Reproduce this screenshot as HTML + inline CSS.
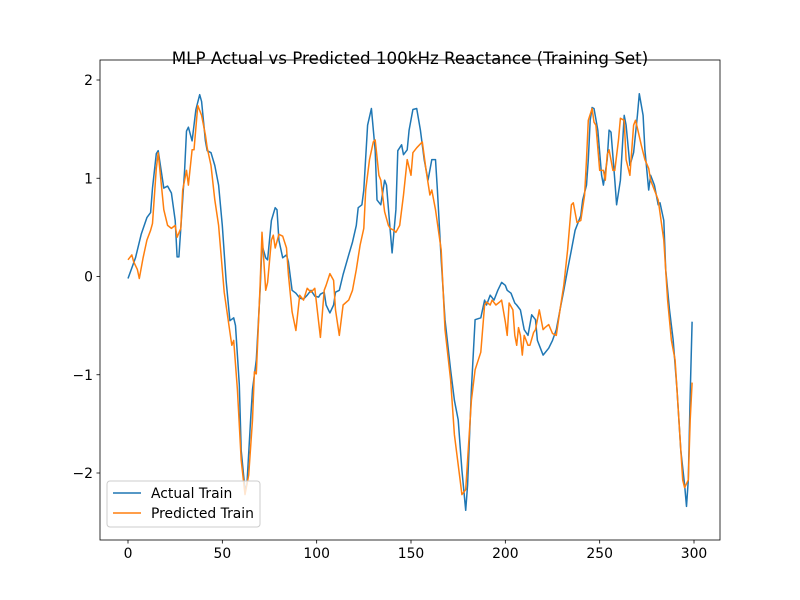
<!DOCTYPE html>
<html><head><meta charset="utf-8"><style>
body{margin:0;background:#fff}
svg{display:block;font-family:"DejaVu Sans","Liberation Sans",sans-serif}
</style></head><body>
<svg id="chart" width="800" height="600">
<rect x="0" y="0" width="800" height="600" fill="#fff"/>
<text x="410" y="64" font-size="16.7" text-anchor="middle">MLP Actual vs Predicted 100kHz Reactance (Training Set)</text>
<g id="axes"></g>
<g id="series"></g>
<rect x="100" y="60" width="620" height="480" fill="none" stroke="#000" stroke-width="0.8"/>
<g>
<rect x="107" y="481" width="153" height="46" rx="3" fill="#fff" fill-opacity="0.8" stroke="#ccc"/>
<line x1="113" y1="493" x2="141" y2="493" stroke="#1f77b4" stroke-width="1.5"/>
<text x="151" y="498" font-size="13.9">Actual Train</text>
<line x1="113" y1="513" x2="141" y2="513" stroke="#ff7f0e" stroke-width="1.5"/>
<text x="151" y="518" font-size="13.9">Predicted Train</text>
</g>
</svg>
<script>
const actualX=[0,4,7,10,12,13,15,16,19,21,23,25,26,27,30,31,32,34,36,38,39,41,42,44,46,48,50,52,54,56,57,59,60,62,63,65,66,68,70,71,73,74,76,78,79,80,82,84,85,87,89,91,93,95,97,99,101,102,104,105,107,109,110,112,114,117,119,121,122,124,125,127,129,131,132,134,136,137,139,140,142,143,145,146,148,149,151,153,155,157,159,161,163,164,166,168,171,173,175,177,179,180,182,184,187,189,190,192,194,196,198,200,201,203,205,206,208,210,212,214,216,217,219,220,223,225,227,229,231,233,235,237,240,241,243,244,245,246,247,249,251,252,254,255,256,258,259,261,263,264,266,268,270,271,273,274,276,277,279,281,282,284,285,287,289,291,293,295,296,297,298,299];
const actualY=[-0.02,0.19,0.43,0.6,0.65,0.9,1.25,1.28,0.9,0.92,0.85,0.57,0.2,0.2,1.08,1.48,1.52,1.38,1.7,1.85,1.78,1.38,1.28,1.26,1.13,0.93,0.52,-0.04,-0.45,-0.42,-0.5,-1.1,-1.77,-2.17,-2.12,-1.46,-1.15,-0.85,-0.14,0.32,0.19,0.17,0.57,0.7,0.68,0.37,0.19,0.22,0.15,-0.14,-0.17,-0.22,-0.23,-0.19,-0.14,-0.2,-0.21,-0.18,-0.16,-0.29,-0.37,-0.29,-0.16,-0.14,0.02,0.22,0.35,0.52,0.7,0.73,0.88,1.54,1.71,1.28,0.78,0.73,0.98,0.93,0.47,0.24,0.68,1.28,1.34,1.24,1.29,1.49,1.7,1.71,1.49,1.19,0.98,1.19,1.19,0.88,0.17,-0.44,-0.95,-1.26,-1.46,-1.97,-2.38,-2.12,-1.15,-0.44,-0.42,-0.24,-0.29,-0.19,-0.24,-0.14,-0.06,-0.09,-0.14,-0.17,-0.27,-0.29,-0.34,-0.54,-0.6,-0.39,-0.44,-0.65,-0.75,-0.8,-0.73,-0.65,-0.54,-0.34,-0.14,0.07,0.27,0.47,0.62,0.78,0.93,1.19,1.59,1.72,1.71,1.49,1.03,0.93,1.19,1.49,1.47,0.98,0.73,0.98,1.64,1.54,1.13,1.26,1.64,1.86,1.64,1.29,0.88,1.03,0.93,0.73,0.75,0.57,0.07,-0.34,-0.65,-1.15,-1.77,-2.12,-2.34,-2.07,-1.2,-0.46];
const predX=[0,2,3,5,6,8,10,12,13,15,16,19,21,23,25,26,28,29,31,32,34,35,37,39,41,42,44,46,48,50,51,55,56,58,60,62,64,66,67,68,70,71,73,74,76,77,78,80,82,84,85,87,89,91,93,95,97,99,101,102,104,105,107,109,110,112,114,117,119,121,123,125,126,128,130,131,133,134,136,138,139,141,142,144,146,148,150,151,153,156,158,160,161,163,166,168,171,173,176,177,179,182,184,187,189,190,192,193,195,197,198,200,201,202,204,205,206,207,208,209,210,212,213,215,216,218,220,221,223,225,227,229,231,233,235,236,238,240,242,243,244,246,247,248,250,252,253,254,255,257,258,260,261,263,264,266,268,269,270,272,274,276,277,279,281,284,286,288,290,292,294,295,297,298,299];
const predY=[0.17,0.22,0.15,0.07,-0.02,0.19,0.37,0.47,0.54,1.1,1.26,0.68,0.52,0.49,0.52,0.4,0.49,0.88,1.08,0.93,1.29,1.29,1.74,1.64,1.44,1.31,1.13,0.78,0.52,0.07,-0.16,-0.7,-0.65,-1.15,-1.87,-2.22,-2.02,-1.46,-0.97,-0.99,-0.09,0.45,-0.14,-0.06,0.37,0.42,0.29,0.43,0.41,0.29,0.02,-0.36,-0.55,-0.19,-0.24,-0.12,-0.16,-0.12,-0.46,-0.62,-0.14,-0.09,0.03,-0.04,-0.34,-0.6,-0.29,-0.24,-0.14,0.07,0.32,0.49,0.88,1.19,1.37,1.39,1.03,0.98,0.66,0.52,0.49,0.47,0.45,0.52,0.83,1.19,1.03,1.26,1.31,1.37,1.08,0.83,0.88,0.68,0.27,-0.54,-1.05,-1.61,-2.07,-2.22,-2.17,-1.26,-0.95,-0.77,-0.29,-0.26,-0.29,-0.24,-0.29,-0.26,-0.24,-0.46,-0.6,-0.27,-0.34,-0.6,-0.7,-0.52,-0.6,-0.8,-0.6,-0.7,-0.7,-0.57,-0.54,-0.34,-0.54,-0.52,-0.49,-0.58,-0.6,-0.34,-0.09,0.27,0.73,0.75,0.55,0.57,0.83,1.19,1.59,1.71,1.57,1.54,1.08,1.08,0.98,1.24,1.29,1.08,1.08,1.39,1.61,1.59,1.19,1.03,1.54,1.59,1.51,1.34,1.19,1.1,0.98,0.88,0.78,0.37,-0.24,-0.65,-0.85,-1.46,-2.07,-2.15,-2.07,-1.46,-1.08];
const xTicks=[0,50,100,150,200,250,300];
const yTicks=[-2,-1,0,1,2];
const NS="http://www.w3.org/2000/svg";
function sx(v){return 128+v*(694-128)/300;}
function sy(v){return 276.5-v*98.25;}
const axes=document.getElementById('axes');
xTicks.forEach(t=>{
  const l=document.createElementNS(NS,'line');
  l.setAttribute('x1',sx(t));l.setAttribute('x2',sx(t));l.setAttribute('y1',540);l.setAttribute('y2',543.5);
  l.setAttribute('stroke','#000');l.setAttribute('stroke-width','0.8');
  
  
  axes.appendChild(l);
  const tx=document.createElementNS(NS,'text');
  tx.setAttribute('x',sx(t));tx.setAttribute('y',558);tx.setAttribute('font-size','13.9');tx.setAttribute('text-anchor','middle');
  tx.textContent=t;
  
  
  axes.appendChild(tx);
});
yTicks.forEach(t=>{
  const l=document.createElementNS(NS,'line');
  l.setAttribute('x1',96.5);l.setAttribute('x2',100);l.setAttribute('y1',sy(t));l.setAttribute('y2',sy(t));
  l.setAttribute('stroke','#000');l.setAttribute('stroke-width','0.8');
  
  
  axes.appendChild(l);
  const tx=document.createElementNS(NS,'text');
  tx.setAttribute('x',93);tx.setAttribute('y',sy(t)+5);tx.setAttribute('font-size','13.9');tx.setAttribute('text-anchor','end');
  tx.textContent=t<0?'\u2212'+Math.abs(t):t;
  
  
  axes.appendChild(tx);
});
const series=document.getElementById('series');
function draw(xs,ys,color,name){
  const p=document.createElementNS(NS,'polyline');
  p.setAttribute('points',xs.map((x,i)=>sx(x).toFixed(1)+','+sy(ys[i]).toFixed(1)).join(' '));
  p.setAttribute('fill','none');p.setAttribute('stroke',color);p.setAttribute('stroke-width','1.5');p.setAttribute('stroke-linejoin','round');
  
  
  series.appendChild(p);
}
draw(actualX,actualY,'#1f77b4','actual-train-line');
draw(predX,predY,'#ff7f0e','predicted-train-line');
</script>
</body></html>
